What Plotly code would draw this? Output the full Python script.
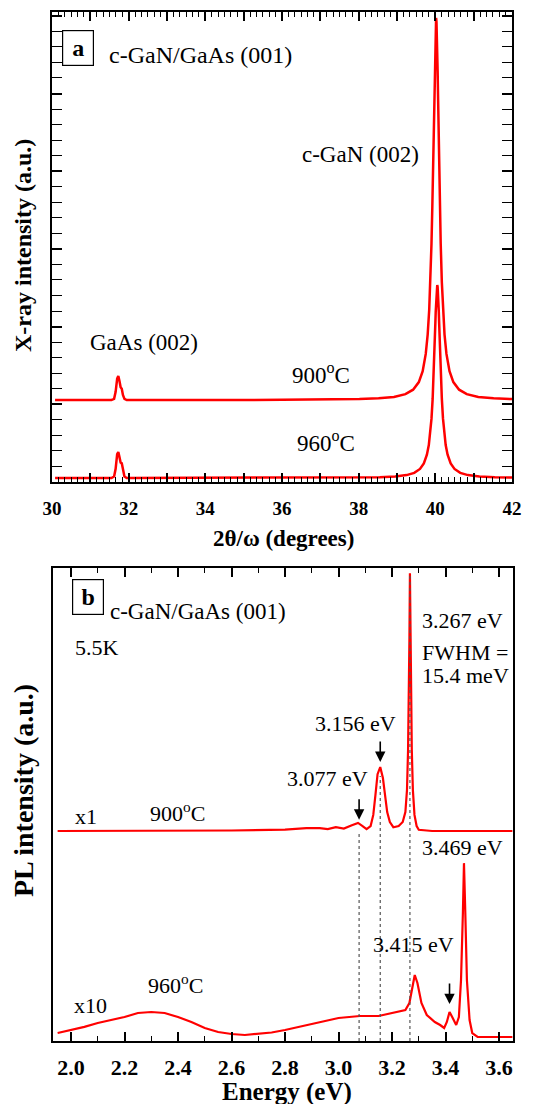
import plotly.graph_objects as go

# ---------------- Panel (a): XRD ----------------
xrd_angle_900 = [30.08, 31.55, 31.62, 31.66, 31.70, 31.73, 31.76, 31.79, 31.82, 31.85, 31.89, 31.95,
                 36.0, 37.0, 38.02, 38.52, 38.92, 39.22, 39.42, 39.57, 39.67, 39.75, 39.80, 39.84,
                 39.87, 39.90, 39.92, 39.94, 39.95, 39.96, 39.97, 39.98, 39.99, 40.00, 40.01, 40.02,
                 40.03, 40.04, 40.05, 40.06, 40.07, 40.08, 40.09, 40.10, 40.12, 40.14, 40.17, 40.20,
                 40.24, 40.29, 40.37, 40.47, 40.62, 40.82, 41.12, 41.52, 42.0]
xrd_int_900 = [1.055, 1.055, 1.07, 1.16, 1.33, 1.364, 1.30, 1.22, 1.20, 1.12, 1.07, 1.055,
               1.057, 1.060, 1.067, 1.077, 1.095, 1.131, 1.188, 1.286, 1.426, 1.648, 1.897, 2.214,
               2.568, 3.070, 3.513, 4.053, 4.354, 4.670, 4.988, 5.293, 5.565, 5.782, 5.922, 5.972,
               5.922, 5.782, 5.565, 5.293, 4.988, 4.670, 4.354, 4.053, 3.513, 3.070, 2.568, 2.214,
               1.897, 1.648, 1.426, 1.286, 1.188, 1.131, 1.095, 1.077, 1.067]

xrd_angle_960 = [30.08, 31.55, 31.62, 31.66, 31.70, 31.73, 31.76, 31.79, 31.82, 31.85, 31.89, 31.95,
                 36.0, 37.0, 38.05, 38.55, 38.95, 39.25, 39.45, 39.60, 39.70, 39.78, 39.83, 39.87,
                 39.90, 39.93, 39.95, 39.97, 39.98, 39.99, 40.00, 40.01, 40.02, 40.03, 40.04, 40.05,
                 40.06, 40.07, 40.08, 40.09, 40.10, 40.11, 40.12, 40.13, 40.15, 40.17, 40.20, 40.23,
                 40.27, 40.32, 40.40, 40.50, 40.65, 40.85, 41.15, 41.55, 42.0]
xrd_int_960 = [0.051, 0.051, 0.07, 0.17, 0.36, 0.386, 0.32, 0.25, 0.24, 0.15, 0.07, 0.051,
               0.052, 0.054, 0.057, 0.062, 0.071, 0.089, 0.118, 0.168, 0.238, 0.351, 0.476, 0.637,
               0.815, 1.069, 1.293, 1.566, 1.718, 1.877, 2.038, 2.192, 2.330, 2.439, 2.510, 2.535,
               2.510, 2.439, 2.330, 2.192, 2.038, 1.877, 1.718, 1.566, 1.293, 1.069, 0.815, 0.637,
               0.476, 0.351, 0.238, 0.168, 0.118, 0.089, 0.071, 0.062, 0.057]

# ---------------- Panel (b): PL ----------------
pl_energy_900 = [1.95, 2.60, 2.80, 2.88, 2.93, 2.96, 2.99, 3.02, 3.05, 3.073, 3.09, 3.105, 3.12,
                 3.13, 3.138, 3.146, 3.156, 3.166, 3.174, 3.182, 3.192, 3.205, 3.225, 3.24, 3.25,
                 3.256, 3.260, 3.263, 3.265, 3.267, 3.269, 3.271, 3.274, 3.278, 3.284, 3.292,
                 3.30, 3.35, 3.65]
pl_int_900 = [4.44, 4.45, 4.47, 4.50, 4.50, 4.48, 4.52, 4.49, 4.56, 4.61, 4.545, 4.48, 4.545,
              4.78, 5.20, 5.64, 5.79, 5.56, 5.20, 4.84, 4.63, 4.52, 4.545, 4.63, 4.84,
              5.31, 6.15, 7.21, 8.48, 9.89, 8.48, 7.21, 6.15, 5.31, 4.78, 4.545,
              4.465, 4.44, 4.44]

pl_energy_960 = [1.95, 2.0, 2.05, 2.1, 2.15, 2.2, 2.25, 2.3, 2.35, 2.4, 2.45, 2.5, 2.55, 2.6, 2.65,
                 2.7, 2.75, 2.8, 2.85, 2.9, 2.95, 3.0, 3.04, 3.08, 3.15, 3.2, 3.25, 3.265, 3.275,
                 3.285, 3.295, 3.31, 3.33, 3.36, 3.38, 3.395, 3.405, 3.415, 3.425, 3.44, 3.45,
                 3.458, 3.465, 3.469, 3.474, 3.48, 3.49, 3.50, 3.52, 3.65]
pl_int_960 = [0.169, 0.233, 0.30, 0.381, 0.444, 0.507, 0.592, 0.613, 0.592, 0.507, 0.40, 0.275,
              0.19, 0.148, 0.127, 0.148, 0.18, 0.233, 0.296, 0.359, 0.42, 0.486, 0.507, 0.529,
              0.529, 0.592, 0.655, 0.803, 1.142, 1.395, 1.226, 0.803, 0.55, 0.402, 0.338, 0.275,
              0.402, 0.613, 0.507, 0.338, 0.507, 1.29, 2.71, 3.76, 2.71, 1.29, 0.444, 0.169,
              0.085, 0.085]

marked_energies = [3.077, 3.156, 3.267]
marked_line_tops = [4.40, 5.60, 9.89]
arrow_energies = [3.077, 3.156, 3.415]
arrow_tips = [4.68, 5.90, 0.78]

FONT = "Liberation Serif"
RED = "#ff0000"

W, H = 533, 1104
# pixel frame of each panel (left, right, top, bottom)
A_BOX = (52, 512, 12, 482)
B_BOX = (53, 513, 568, 1041)
XA_RANGE = [30, 42]
XB_RANGE = [1.9327, 3.6523]
YA_RANGE = [0, 6.049]
YB_RANGE = [0, 10]

def xdom(box):
    return [box[0] / W, box[1] / W]

def ydom(box):
    return [1 - box[3] / H, 1 - box[2] / H]

fig = go.Figure()

fig.add_trace(go.Scatter(x=xrd_angle_900, y=xrd_int_900, mode="lines",
                         line=dict(color=RED, width=2.5), xaxis="x", yaxis="y"))
fig.add_trace(go.Scatter(x=xrd_angle_960, y=xrd_int_960, mode="lines",
                         line=dict(color=RED, width=2.5), xaxis="x", yaxis="y"))
fig.add_trace(go.Scatter(x=pl_energy_900, y=pl_int_900, mode="lines",
                         line=dict(color=RED, width=2.2), xaxis="x2", yaxis="y2"))
fig.add_trace(go.Scatter(x=pl_energy_960, y=pl_int_960, mode="lines",
                         line=dict(color=RED, width=2.2), xaxis="x2", yaxis="y2"))
for e, top in zip(marked_energies, marked_line_tops):
    fig.add_trace(go.Scatter(x=[e, e], y=[0, top], mode="lines",
                             line=dict(color="#555555", width=1.2, dash="dot"),
                             xaxis="x2", yaxis="y2"))

# invisible trace so the 1-degree tick overlay axis of panel a is drawn
fig.add_trace(go.Scatter(x=XA_RANGE, y=[0.5, 0.5], mode="lines", line=dict(width=0),
                         opacity=0, hoverinfo="skip", xaxis="x3", yaxis="y"))

tickfont_a = dict(family=FONT, size=19, color="black", weight="bold")
tickfont_b = dict(family=FONT, size=22, color="black", weight="bold")
frame = dict(showline=True, linecolor="black", linewidth=2, showgrid=False, zeroline=False,
             automargin=False)

fig.update_layout(
    template="none",
    width=W, height=H, autosize=False,
    margin=dict(l=0, r=0, t=0, b=0, pad=0, autoexpand=False),
    paper_bgcolor="white", plot_bgcolor="white",
    font=dict(family=FONT, color="black"),
    showlegend=False,
    xaxis=dict(domain=xdom(A_BOX), range=XA_RANGE, anchor="y", tick0=30, dtick=2,
               ticks="inside", ticklen=9, tickwidth=1.5, tickcolor="black",
               minor=dict(tick0=30, dtick=1 / 6, ticks="inside", ticklen=5, tickwidth=1.2,
                          tickcolor="black", showgrid=False),
               mirror="allticks", tickfont=tickfont_a, ticklabelstandoff=8, **frame),
    xaxis3=dict(overlaying="x", anchor="y", side="bottom", range=XA_RANGE,
                tickmode="linear", tick0=30, dtick=1, ticks="inside", ticklen=9,
                tickwidth=1.5, tickcolor="black", showticklabels=False, showline=False,
                mirror="allticks", showgrid=False, zeroline=False, automargin=False),
    yaxis=dict(domain=ydom(A_BOX), range=YA_RANGE, anchor="x",
               tick0=0, dtick=1, ticks="inside", ticklen=10, tickwidth=1.5, tickcolor="black",
               minor=dict(dtick=0.2, ticks="inside", ticklen=5, tickwidth=1.2, tickcolor="black",
                          showgrid=False),
               showticklabels=False, mirror="allticks", **frame),
    xaxis2=dict(domain=xdom(B_BOX), range=XB_RANGE, anchor="y2", tick0=2.0, dtick=0.2,
                tickformat=".1f", ticks="inside", ticklen=9, tickwidth=1.5, tickcolor="black",
                minor=dict(dtick=0.1, ticks="inside", ticklen=5, tickwidth=1.2,
                           tickcolor="black", showgrid=False),
                mirror="allticks", tickfont=tickfont_b, ticklabelstandoff=6, **frame),
    yaxis2=dict(domain=ydom(B_BOX), range=YB_RANGE, anchor="x2",
                showticklabels=False, ticks="", mirror=True, **frame),
)

ann = []

def txt(text, x, y, xref, yref, size, xanchor="center", bold=False, **kw):
    f = dict(family=FONT, size=size, color="black")
    if bold:
        f["weight"] = "bold"
    d = dict(text=text, x=x, y=y, xref=xref, yref=yref, showarrow=False,
             xanchor=xanchor, yanchor="middle", font=f)
    d.update(kw)
    ann.append(d)

# axis titles
txt("X-ray intensity (a.u.)", 23 / W, 1 - 246 / H, "paper", "paper", 24, bold=True, textangle=-90)
txt("2θ/ω (degrees)", 283.5 / W, 1 - 538 / H, "paper", "paper", 23, bold=True)
txt("PL intensity (a.u.)", 23 / W, 1 - 791 / H, "paper", "paper", 28, bold=True, textangle=-90)
txt("Energy (eV)", 286.7 / W, 1 - 1092 / H, "paper", "paper", 25, bold=True)

# panel a labels
txt("a", 30.69, 5.59, "x", "y", 24, bold=True, bordercolor="black", borderwidth=1.2,
    borderpad=0, width=30, height=34)
txt("c-GaN/GaAs (001)", 31.43, 5.50, "x", "y", 24, xanchor="left")
txt("c-GaN (002)", 38.05, 4.21, "x", "y", 23)
txt("GaAs (002)", 32.40, 1.80, "x", "y", 23)
txt("900<sup>o</sup>C", 37.03, 1.40, "x", "y", 23)
txt("960<sup>o</sup>C", 37.15, 0.52, "x", "y", 23)

# panel b labels
txt("b", 2.062, 9.39, "x2", "y2", 24, bold=True, bordercolor="black", borderwidth=1.2,
    borderpad=0, width=30, height=34)
txt("c-GaN/GaAs (001)", 2.138, 9.07, "x2", "y2", 23, xanchor="left")
txt("5.5K", 2.007, 8.31, "x2", "y2", 22, xanchor="left")
txt("3.267 eV", 3.462, 8.90, "x2", "y2", 22)
txt("FWHM =", 3.473, 8.22, "x2", "y2", 22)
txt("15.4 meV", 3.473, 7.72, "x2", "y2", 22)
txt("3.156 eV", 3.065, 6.72, "x2", "y2", 22)
txt("3.077 eV", 2.959, 5.56, "x2", "y2", 22)
txt("x1", 2.007, 4.74, "x2", "y2", 22, xanchor="left")
txt("900<sup>o</sup>C", 2.398, 4.84, "x2", "y2", 22)
txt("3.469 eV", 3.464, 4.10, "x2", "y2", 22)
txt("3.415 eV", 3.280, 2.03, "x2", "y2", 22)
txt("960<sup>o</sup>C", 2.389, 1.20, "x2", "y2", 22)
txt("x10", 2.004, 0.76, "x2", "y2", 22, xanchor="left")

for e, tip in zip(arrow_energies, arrow_tips):
    ann.append(dict(x=e, y=tip, xref="x2", yref="y2", text="", showarrow=True,
                    ax=0, ay=-22, arrowhead=2, arrowsize=1.3, arrowwidth=1.6, arrowcolor="black"))

fig.update_layout(annotations=ann)

fig.write_html("out.html", config={"displayModeBar": False},
               post_script="document.body.style.margin='0';")
